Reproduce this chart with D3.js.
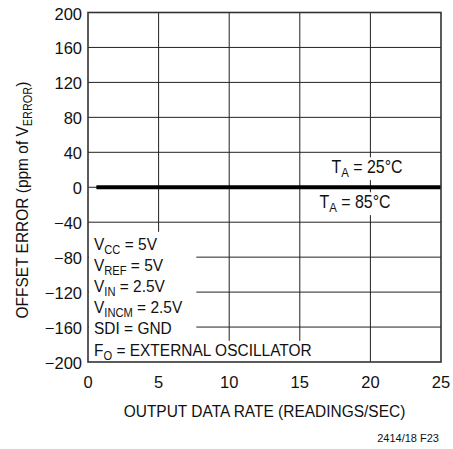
<!DOCTYPE html>
<html>
<head>
<meta charset="utf-8">
<script src="https://cdn.jsdelivr.net/npm/d3@7"></script>
<style>
  body { margin: 0; background: #fff; }
  text { font-family: "Liberation Sans", Arial, Helvetica, sans-serif; fill: #111; }
</style>
</head>
<body>
<svg id="chart" width="453" height="449"></svg>
<script>
// data
const rates = [0.6, 2, 5, 7.5, 10, 12.5, 15, 17.5, 20, 22.5, 25]
const err25C = [0.5, 0.5, 0.5, 0.5, 0.5, 0.5, 0.5, 0.5, 0.5, 0.5, 0.5]
const err85C = [-0.5, -0.5, -0.5, -0.5, -0.5, -0.5, -0.5, -0.5, -0.5, -0.5, -0.5]
const xTicks = [0, 5, 10, 15, 20, 25]
const yTicks = [-200, -160, -120, -80, -40, 0, 40, 80, 120, 160, 200]

// conditions box: [main, subscript, rest]
const notes = [
  ["V", "CC", " = 5V"],
  ["V", "REF", " = 5V"],
  ["V", "IN", " = 2.5V"],
  ["V", "INCM", " = 2.5V"],
  ["SDI = GND", "", ""],
  ["F", "O", " = EXTERNAL OSCILLATOR"]
]

const margins = { top: 12.5, right: 12, bottom: 87, left: 88 }
const width = 453, height = 449
const squeeze = 0.91   // the original type is a condensed face
const svg = d3.select("#chart")

const x = d3.scaleLinear().domain([0, 25]).range([margins.left, width - margins.right])
const y = d3.scaleLinear().domain([-200, 200]).range([height - margins.bottom, margins.top])

//* grid
svg.append("g")
  .selectAll("line")
  .data(yTicks.slice(1, -1))
  .join("line")
  .attr("x1", x(0)).attr("x2", x(25))
  .attr("y1", d => y(d)).attr("y2", d => y(d))
  .attr("stroke", "#222").attr("stroke-width", 1)

svg.append("g")
  .selectAll("line")
  .data(xTicks.slice(1, -1))
  .join("line")
  .attr("x1", d => x(d)).attr("x2", d => x(d))
  .attr("y1", y(200)).attr("y2", y(-200))
  .attr("stroke", "#222").attr("stroke-width", 1)

//* data lines
const line = d3.line().x((d, i) => x(rates[i])).y(d => y(d))
;[err25C, err85C].forEach(s => {
  svg.append("path")
    .datum(s)
    .attr("d", line)
    .attr("fill", "none")
    .attr("stroke", "#000")
    .attr("stroke-width", 3)
})

//* label with white backing
function label(g, px, py, main, sub, rest, size, anchor) {
  const t = g.append("text")
    .attr("x", px).attr("y", py)
    .attr("font-size", size)
    .attr("text-anchor", anchor || "start")
  t.append("tspan").text(main)
  if (sub) t.append("tspan").attr("font-size", size * 0.72).attr("dy", 4).text(sub)
  if (rest) t.append("tspan").attr("dy", sub ? -4 : 0).text(rest)
  const b = t.node().getBBox()
  g.insert("rect", () => t.node())
    .attr("x", b.x - 1).attr("y", b.y)
    .attr("width", b.width + 2).attr("height", b.height)
    .attr("fill", "#fff")
  return t
}

// conditions block, white box behind it
svg.append("rect")
  .attr("x", x(0) + 1).attr("y", y(-51))
  .attr("width", x(7.6) - x(0)).attr("height", y(-200) - y(-51) - 1)
  .attr("fill", "#fff")
const notesG = svg.append("g").attr("transform", `translate(94,0) scale(${squeeze},1)`)
const rowY = [250, 271.5, 292.5, 313.5, 334.5, 356.5]
notes.forEach((n, i) => {
  label(notesG, 0, rowY[i], n[0], n[1], n[2], 17)
})

const t25 = svg.append("g").attr("transform", `translate(367,0) scale(${squeeze},1)`)
label(t25, 0, 173, "T", "A", " = 25\u00B0C", 17.5, "middle")
const t85 = svg.append("g").attr("transform", `translate(355,0) scale(${squeeze},1)`)
label(t85, 0, 208, "T", "A", " = 85\u00B0C", 17.5, "middle")

//* frame
svg.append("rect")
  .attr("x", x(0)).attr("y", y(200))
  .attr("width", x(25) - x(0)).attr("height", y(-200) - y(200))
  .attr("fill", "none").attr("stroke", "#333").attr("stroke-width", 1.6)

//* tick labels
svg.append("g")
  .selectAll("text")
  .data(yTicks)
  .join("text")
  .attr("x", x(0) - 6)
  .attr("y", d => y(d) + 7)
  .attr("text-anchor", "end")
  .attr("font-size", 16.5)
  .text(d => d < 0 ? "\u2212" + Math.abs(d) : d)

svg.append("g")
  .selectAll("text")
  .data(xTicks)
  .join("text")
  .attr("x", d => x(d))
  .attr("y", 388)
  .attr("text-anchor", "middle")
  .attr("font-size", 16.5)
  .text(d => d)

//* axis titles
svg.append("text")
  .attr("transform", `translate(${(x(0) + x(25)) / 2}, 416.5) scale(${squeeze},1)`)
  .attr("text-anchor", "middle")
  .attr("font-size", 17)
  .text("OUTPUT DATA RATE (READINGS/SEC)")

const yTitle = svg.append("text")
  .attr("transform", `translate(28, 200) rotate(-90) scale(${squeeze},1)`)
  .attr("text-anchor", "middle")
  .attr("font-size", 17)
yTitle.append("tspan").text("OFFSET ERROR (ppm of V")
yTitle.append("tspan").attr("font-size", 12).attr("dy", 4).text("ERROR")
yTitle.append("tspan").attr("dy", -4).text(")")

//* figure code
svg.append("text")
  .attr("x", 439)
  .attr("y", 442)
  .attr("text-anchor", "end")
  .attr("font-size", 11)
  .style("font-family", "'Liberation Sans Narrow', 'Arial Narrow', sans-serif")
  .text("2414/18 F23")
</script>
</body>
</html>
